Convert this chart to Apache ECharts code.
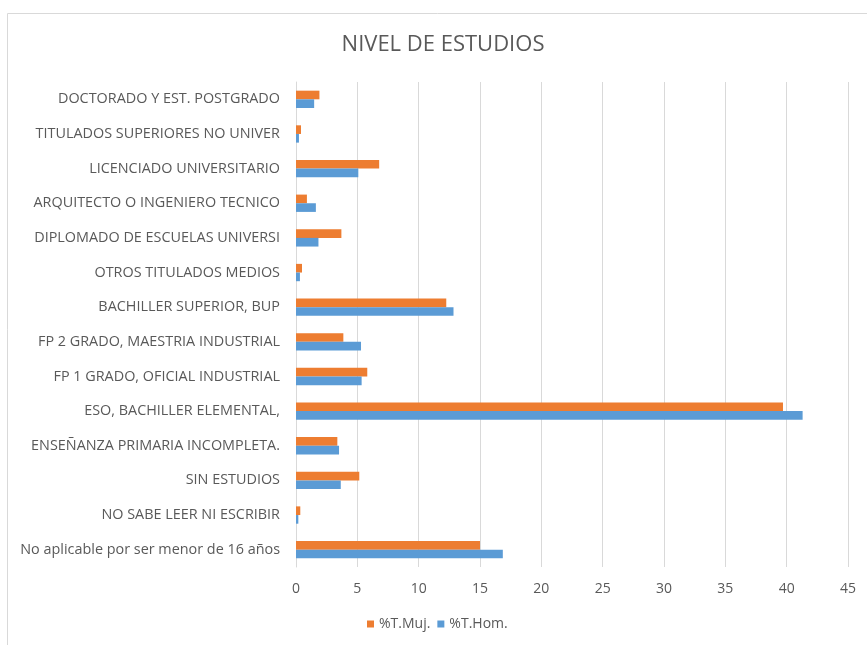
<!DOCTYPE html>
<html>
<head>
<meta charset="utf-8">
<script src="https://cdn.jsdelivr.net/npm/echarts@6/dist/echarts.min.js"></script>
<style>html,body{margin:0;padding:0;background:#fff}#c{width:867px;height:645px}</style>
</head>
<body>
<div id="c"></div>
<script>
const categories = [
  'No aplicable por ser menor de 16 años',
  'NO SABE LEER NI ESCRIBIR',
  'SIN ESTUDIOS',
  'ENSEÑANZA PRIMARIA INCOMPLETA.',
  'ESO, BACHILLER ELEMENTAL,',
  'FP 1 GRADO, OFICIAL INDUSTRIAL',
  'FP 2 GRADO, MAESTRIA INDUSTRIAL',
  'BACHILLER SUPERIOR, BUP',
  'OTROS TITULADOS MEDIOS',
  'DIPLOMADO DE ESCUELAS UNIVERSI',
  'ARQUITECTO O INGENIERO TECNICO',
  'LICENCIADO UNIVERSITARIO',
  'TITULADOS SUPERIORES NO UNIVER',
  'DOCTORADO Y EST. POSTGRADO'
];
const mujValues = [15.0, 0.35, 5.16, 3.37, 39.7, 5.81, 3.86, 12.25, 0.49, 3.70, 0.89, 6.78, 0.41, 1.91];
const homValues = [16.86, 0.19, 3.65, 3.51, 41.3, 5.35, 5.30, 12.84, 0.32, 1.83, 1.62, 5.08, 0.24, 1.48];
const xTicks = {min: 0, max: 45, interval: 5};
const seriesNames = ['%T.Muj.', '%T.Hom.'];

const txt = '#595959';
const font = 'Open Sans';
const chart = echarts.init(document.getElementById('c'));
chart.setOption({
  animation: false,
  textStyle: {fontFamily: font},
  graphic: [{
    type: 'rect', silent: true,
    shape: {x: 7.5, y: 13.5, width: 900, height: 700},
    style: {fill: 'none', stroke: '#D9D9D9', lineWidth: 1}
  }],
  title: {
    text: 'NIVEL DE ESTUDIOS', left: 438, top: 29, textAlign: 'center',
    textStyle: {fontFamily: font, fontSize: 22, fontWeight: 'normal', color: txt}
  },
  legend: {
    data: seriesNames, bottom: 9, left: 362,
    icon: 'rect', itemWidth: 7, itemHeight: 7, itemGap: 7,
    textStyle: {fontFamily: font, fontSize: 14, color: txt}
  },
  grid: {left: 296, right: 19, top: 82, bottom: 78, containLabel: false},
  xAxis: {
    type: 'value', min: xTicks.min, max: xTicks.max, interval: xTicks.interval,
    axisLine: {show: false}, axisTick: {show: false},
    axisLabel: {color: txt, fontSize: 14, margin: 15, fontFamily: font},
    splitLine: {show: true, lineStyle: {color: '#D9D9D9', width: 1}}
  },
  yAxis: {
    type: 'category', data: categories,
    axisLine: {show: true, lineStyle: {color: '#D9D9D9', width: 1}},
    axisTick: {show: false},
    axisLabel: {color: txt, fontSize: 14.4, margin: 16, fontFamily: font}
  },
  series: [
    {name: seriesNames[0], type: 'bar', data: mujValues, barGap: '0%', barCategoryGap: '50%',
     itemStyle: {color: '#ED7D31'}},
    {name: seriesNames[1], type: 'bar', data: homValues, barGap: '0%', barCategoryGap: '50%',
     itemStyle: {color: '#5B9BD5'}}
  ]
});
</script>
</body>
</html>
